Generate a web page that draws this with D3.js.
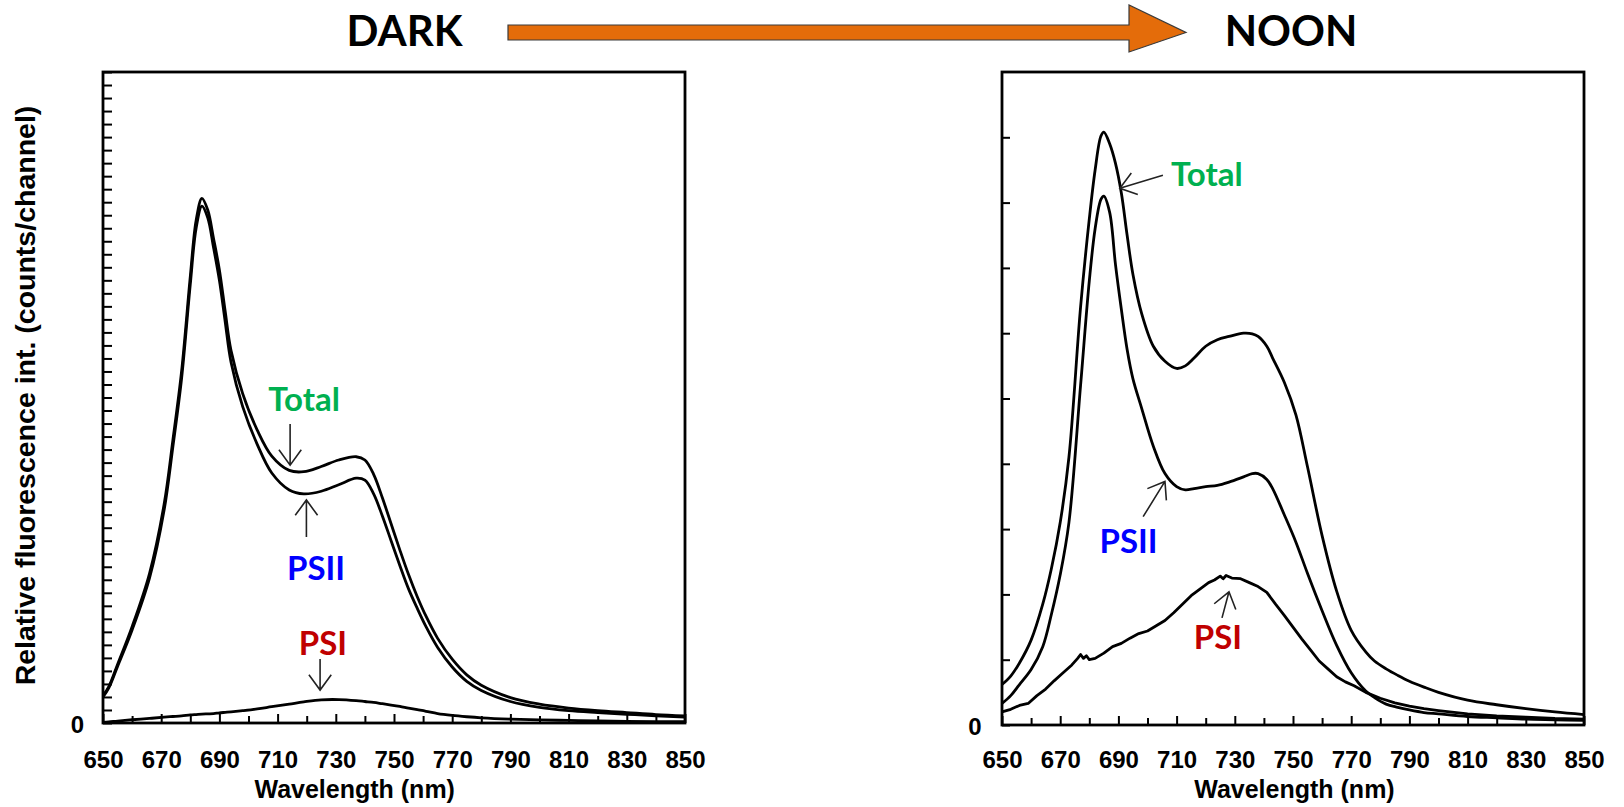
<!DOCTYPE html>
<html><head><meta charset="utf-8">
<script src="https://cdn.jsdelivr.net/npm/d3@7/dist/d3.min.js"></script>
<style>body{margin:0;background:#fff}svg{display:block}</style>
</head><body>
<svg id="chart" width="1624" height="807"></svg>
<script>
// ---------- data ----------
const darkWavelengths = [650,652,655,660,666,671,674,677,680,682,684,686,688,690,692,694,698,703,708,714,719,725,731,737,740,743,746,749,752,755,758,761,765,770,775,780,790,800,810,820,830,840,850];
const darkTotal = [2.1,2.8,4.5,7.4,11.5,16.8,21.7,27.0,34.3,38.6,40.3,39.4,37.2,34.8,31.6,28.6,25.3,22.5,20.5,19.4,19.3,19.7,20.2,20.45,20.2,19.1,17.3,15.3,13.3,11.4,9.7,8.2,6.5,4.9,3.7,2.9,1.95,1.45,1.15,0.95,0.8,0.65,0.55];
const darkPSII = [2.0,2.7,4.35,7.15,11.15,16.35,21.2,26.45,33.7,38.0,39.7,38.8,36.5,34.0,30.8,27.7,24.3,21.4,19.2,17.9,17.6,17.8,18.3,18.8,18.65,17.6,15.9,14.0,12.1,10.3,8.8,7.4,5.8,4.3,3.2,2.5,1.65,1.2,0.95,0.8,0.67,0.55,0.45];
const darkPSI = [0.05,0.08,0.15,0.25,0.35,0.45,0.5,0.55,0.62,0.65,0.68,0.7,0.72,0.78,0.82,0.86,0.95,1.08,1.25,1.45,1.62,1.78,1.8,1.72,1.65,1.58,1.48,1.38,1.27,1.14,1.02,0.9,0.72,0.58,0.48,0.4,0.3,0.24,0.2,0.16,0.13,0.11,0.1];

const noonWavelengths = [650,653,656,660,664,667,670,673,677,680,682,684,685,687,689,691,693,695,698,702,706,710,713,716,720,724,728,733,736,738,741,743,747,751,755,760,765,770,775,778,782,786,790,795,800,810,820,830,840,850];
const noonTotal = [0.62,0.75,0.95,1.3,1.85,2.4,3.1,4.1,6.4,7.75,8.5,9.02,9.08,8.9,8.6,8.15,7.5,6.9,6.3,5.8,5.57,5.46,5.5,5.62,5.8,5.9,5.95,6.0,5.99,5.95,5.8,5.62,5.25,4.75,3.95,2.9,2.05,1.45,1.12,0.98,0.86,0.76,0.67,0.58,0.5,0.38,0.31,0.25,0.2,0.16];
const noonPSII = [0.33,0.45,0.62,0.85,1.2,1.7,2.3,3.1,5.2,6.8,7.6,8.05,8.1,7.85,7.05,6.37,5.75,5.3,4.85,4.27,3.85,3.65,3.6,3.62,3.65,3.67,3.72,3.8,3.85,3.85,3.76,3.62,3.22,2.8,2.32,1.75,1.22,0.8,0.52,0.42,0.32,0.27,0.23,0.19,0.17,0.13,0.11,0.09,0.08,0.07];
const noonPSIWavelengths = [650,653,656,659,662,665,668,671,674,676,677,678,679,680,682,685,688,691,694,697,700,703,706,709,712,715,718,721,723,725,726,727,729,732,735,738,741,744,747,750,753,756,759,762,765,768,771,775,780,785,790,795,800,810,820,830,840,850];
const noonPSI = [0.2,0.24,0.3,0.33,0.45,0.55,0.68,0.8,0.92,1.02,1.08,1.02,1.06,1.0,1.02,1.1,1.2,1.25,1.33,1.4,1.44,1.52,1.6,1.72,1.85,1.98,2.08,2.18,2.22,2.28,2.24,2.29,2.25,2.24,2.18,2.12,2.03,1.85,1.68,1.5,1.32,1.15,0.98,0.86,0.74,0.66,0.6,0.5,0.41,0.34,0.29,0.25,0.22,0.17,0.14,0.12,0.1,0.09];

const xTickValues = [650,660,670,680,690,700,710,720,730,740,750,760,770,780,790,800,810,820,830,840,850];
const xTickLabels = [650,670,690,710,730,750,770,790,810,830,850];
const darkYTicks = [0,1,2,3,4,5,6,7,8,9,10,11,12,13,14,15,16,17,18,19,20,21,22,23,24,25,26,27,28,29,30,31,32,33,34,35,36,37,38,39,40,41,42,43,44,45,46,47,48,49,50];
const noonYTicks = [0,1,2,3,4,5,6,7,8,9];
const yTickLabels = [0];

const xTitle = "Wavelength (nm)";
const yTitle = "Relative fluorescence int. (counts/channel)";

// annotations in data units [wavelength, value]
const darkNotes = [
  {text:"Total", color:"#00B050", at:[719.1,24.0], tail:[714.3,22.96], tip:[714.3,19.8]},
  {text:"PSII", color:"#0000FF", at:[723.2,10.98], tail:[719.9,14.29], tip:[719.9,17.13]},
  {text:"PSI", color:"#C00000", at:[725.6,5.22], tail:[724.6,4.92], tip:[724.6,2.53]}
];
const noonNotes = [
  {text:"Total", color:"#00B050", at:[720.4,8.25], tail:[705.3,8.42], tip:[690.5,8.22]},
  {text:"PSII", color:"#0000FF", at:[693.5,2.63], tail:[698.5,3.19], tip:[706.0,3.73]},
  {text:"PSI", color:"#C00000", at:[724.2,1.16], tail:[725.6,1.64], tip:[728.0,2.04]}
];

// ---------- layout ----------
const svg = d3.select("#chart");
const axisFont = "'Liberation Sans', Arial, sans-serif";
const labelFont = "Lato, 'Open Sans', sans-serif";

function drawPanel(p) {
  const x = d3.scaleLinear().domain([650, 850]).range([p.x0, p.x1]);
  const y = d3.scaleLinear().domain([0, p.ymax]).range([p.yb, p.yt]);
  const g = svg.append("g");

  const line = (xs, ys, curve) => d3.line()
      .x((d, i) => x(xs[i])).y(d => y(d)).curve(curve)(ys);
  p.series.forEach(s => {
    g.append("path").attr("d", line(s.xs, s.ys, s.curve))
      .attr("fill", "none").attr("stroke", "#000").attr("stroke-width", 2.8)
      .attr("stroke-linejoin", "round");
  });

  const xa = g.append("g").attr("transform", `translate(0,${p.yb})`)
    .call(d3.axisBottom(x).tickValues(xTickValues).tickSizeInner(-7).tickSizeOuter(0)
      .tickFormat(d => xTickLabels.includes(d) ? d : ""));
  xa.select(".domain").remove();
  xa.selectAll(".tick line").attr("stroke", "#000").attr("stroke-width", 2)
    .attr("y2", d => xTickLabels.includes(d) ? -9 : -7);
  xa.selectAll(".tick text").attr("y", 768 - p.yb).attr("dy", null)
    .attr("font-family", axisFont).attr("font-weight", "bold").attr("font-size", 24).attr("fill", "#000");

  const ya = g.append("g").attr("transform", `translate(${p.x0},0)`)
    .call(d3.axisLeft(y).tickValues(p.yticks).tickSizeInner(-p.ytick).tickSizeOuter(0)
      .tickFormat(d => yTickLabels.includes(d) ? d : ""));
  ya.select(".domain").remove();
  ya.selectAll(".tick line").attr("stroke", "#000").attr("stroke-width", 2);
  ya.selectAll(".tick text").attr("x", p.zeroX - p.x0).attr("dy", null).attr("y", 9)
    .attr("text-anchor", "middle")
    .attr("font-family", axisFont).attr("font-weight", "bold").attr("font-size", 24).attr("fill", "#000");

  g.append("rect").attr("x", p.x0).attr("y", p.yt).attr("width", p.x1 - p.x0).attr("height", p.yb - p.yt)
    .attr("fill", "none").attr("stroke", "#000").attr("stroke-width", 2.8);

  g.append("text").attr("x", x(p.xTitleAt)).attr("y", 798).attr("text-anchor", "middle")
    .attr("font-family", axisFont).attr("font-weight", "bold").attr("font-size", 25).text(xTitle);

  p.notes.forEach(n => {
    g.append("text").attr("x", x(n.at[0])).attr("y", y(n.at[1])).attr("text-anchor", "middle")
      .attr("font-family", labelFont).attr("font-weight", "bold").attr("font-size", 33)
      .attr("fill", n.color).text(n.text);
    const x1 = x(n.tail[0]), y1 = y(n.tail[1]), x2 = x(n.tip[0]), y2 = y(n.tip[1]);
    const a = Math.atan2(y2 - y1, x2 - x1), L = 19, h = Math.PI / 5;
    const path = `M${x1},${y1}L${x2},${y2}M${x2 - L*Math.cos(a - h)},${y2 - L*Math.sin(a - h)}L${x2},${y2}L${x2 - L*Math.cos(a + h)},${y2 - L*Math.sin(a + h)}`;
    g.append("path").attr("d", path).attr("fill", "none").attr("stroke", "#222")
      .attr("stroke-width", 1.6).attr("stroke-linejoin", "miter");
  });
  return {x, y};
}

const smooth = d3.curveCatmullRom.alpha(0.5);

drawPanel({x0:103, x1:685, yb:723, yt:72, ymax:50, yticks:darkYTicks, ytick:9, zeroX:77.5,
  xTitleAt:736.5, notes:darkNotes,
  series:[
    {xs:darkWavelengths, ys:darkTotal, curve:smooth},
    {xs:darkWavelengths, ys:darkPSII, curve:smooth},
    {xs:darkWavelengths, ys:darkPSI, curve:smooth}
  ]});

drawPanel({x0:1002, x1:1584, yb:725, yt:72, ymax:10, yticks:noonYTicks, ytick:8, zeroX:975,
  xTitleAt:750.5, notes:noonNotes,
  series:[
    {xs:noonWavelengths, ys:noonTotal, curve:smooth},
    {xs:noonWavelengths, ys:noonPSII, curve:smooth},
    {xs:noonPSIWavelengths, ys:noonPSI, curve:d3.curveLinear}
  ]});

// header: DARK -> NOON
svg.append("path")
  .attr("d", "M508,25H1129V5L1186,32.5L1129,52V40H508Z")
  .attr("fill", "#E46C0A").attr("stroke", "#3a3a3a").attr("stroke-width", 1.2);
svg.append("text").attr("x", 404.5).attr("y", 46).attr("text-anchor", "middle")
  .attr("font-family", labelFont).attr("font-weight", "bold").attr("font-size", 42).text("DARK");
svg.append("text").attr("x", 1291).attr("y", 46).attr("text-anchor", "middle")
  .attr("font-family", labelFont).attr("font-weight", "bold").attr("font-size", 42).text("NOON");

svg.append("text").attr("transform", "translate(35,395.5) rotate(-90)").attr("text-anchor", "middle")
  .attr("font-family", axisFont).attr("font-weight", "bold").attr("font-size", 28.5).text(yTitle);
</script>
</body></html>
